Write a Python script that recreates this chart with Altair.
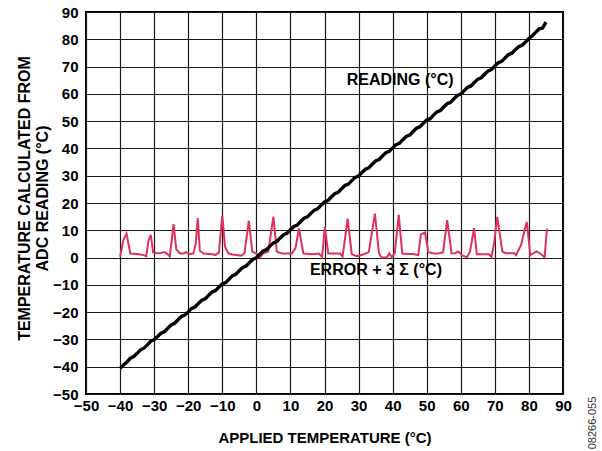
import altair as alt
import pandas as pd

# Reading line (applied temperature vs ADC reading)
reading_x = list(range(-40, 86))
reading_y = [
    -40.6, -39.4, -38.3, -36.9, -36.3, -35.1, -33.8, -33.2, -32.0, -30.7,
    -30.1, -28.9, -27.7, -27.2, -25.9, -24.7, -24.1, -22.8, -21.6, -21.1,
    -19.9, -18.6, -18.1, -16.8, -15.6, -15.1, -13.8, -12.6, -12.1, -10.8,
    -9.7, -9.2, -7.9, -6.6, -6.1, -4.8, -3.6, -3.1, -1.8, -0.6,
    -0.1, 1.2, 2.4, 2.9, 4.2, 5.4, 5.9, 7.2, 8.4, 8.9,
    10.2, 11.4, 11.9, 13.2, 14.4, 14.9, 16.2, 17.4, 17.9, 19.2,
    20.4, 20.9, 22.2, 23.4, 23.9, 25.2, 26.4, 26.9, 28.2, 29.4,
    29.9, 31.2, 32.4, 32.9, 34.2, 35.4, 35.9, 37.2, 38.4, 38.9,
    40.2, 41.4, 41.9, 43.2, 44.4, 44.9, 46.2, 47.4, 47.9, 49.2,
    50.4, 50.9, 52.2, 53.4, 53.9, 55.2, 56.4, 56.9, 58.2, 59.4,
    59.9, 61.2, 62.4, 62.9, 64.2, 65.4, 65.9, 67.2, 68.4, 68.9,
    70.2, 71.4, 71.9, 73.2, 74.4, 74.9, 76.2, 77.3, 77.8, 79.0,
    80.3, 81.3, 82.6, 83.8, 84.1, 86.3,
]

# Error + 3 sigma line
error_x = [
    -40, -39, -38.1, -37, -36, -35, -34, -33, -32.3, -31.7, -31, -30.3, -29, -28, -27, -26,
    -25.4, -24.3, -23.5, -22.5, -21.5, -20.6, -19.6, -18.5, -17.8, -17.2, -16.6, -15.5,
    -14.5, -13, -12, -11, -10, -9.2, -8.2, -7, -5.8, -4.5, -3.5, -2.2, -1.2, 0, 1.1, 2,
    3.5, 5, 6, 7.5, 9, 10.4, 11.5, 12.5, 13.8, 15, 16.3, 18.3, 19.3, 20.1, 21.1, 23.1,
    24.6, 25.3, 26.8, 28, 29.5, 31.5, 33, 34.8, 36, 36.8, 38.3, 39, 39.7, 40.6, 41.8,
    42.8, 44.5, 46, 47.5, 48.3, 49.5, 50.5, 52, 53.5, 54.8, 56, 57.3, 58.3, 59.3, 60.3,
    61.8, 62.7, 63.9, 64.7, 66.2, 68.2, 69, 69.7, 70.7, 72.2, 73.2, 75.7, 76.2, 77.7,
    78.7, 79.4, 80.4, 82.2, 83.2, 84.6, 85.3,
]
error_y = [
    0.3, 6.5, 8.8, 1.5, 1.4, 1.3, 1.1, 0.9, 0.5, 6.0, 8.3, 1.9, 1.6, 1.7, 2.0, 1.2,
    0.4, 12.3, 3.0, 1.6, 1.4, 2.0, 1.2, 1.5, 5.0, 14.5, 2.5, 1.5,
    1.4, 1.2, 1.0, 1.8, 15.5, 4.0, 1.5, 1.1, 0.9, 0.7, 1.5, 13.5, 2.2, 1.5, 0.1, 1.5,
    2.2, 15.0, 2.2, 1.5, 1.5, 1.5, 3.5, 10.7, 1.5, 1.4, 1.2, 1.5, 0.3, 11.2, 1.5, 1.5,
    1.5, 0.3, 14.3, 1.2, 0.5, 1.2, 2.0, 16.1, 1.5, 0.0, 0.0, 1.5, 0.2, 1.5, 15.7,
    1.5, 1.3, 1.3, 0.9, 8.5, 9.2, 2.0, 1.5, 1.5, 2.0, 13.7, 1.5, 1.6, 2.2, 0.9,
    0.1, 2.2, 10.8, 1.2, 1.2, 1.2, 0.3, 4.6, 14.9, 2.2, 1.6, 1.6, 0.9, 4.6,
    10.0, 13.0, 0.9, 2.3, 1.6, 0.1, 10.6,
]

ticks = list(range(-50, 100, 10))

labels = ["READING (°C)", "ERROR + 3 Σ (°C)"]
label_x = [42.2, 35.1]
label_y = [65.0, -4.6]

reading_df = pd.DataFrame({"x": reading_x, "y": reading_y})
error_df = pd.DataFrame({"x": error_x, "y": error_y})
label_df = pd.DataFrame({"x": label_x, "y": label_y, "t": labels})

FONT = "Liberation Sans"

xscale = alt.Scale(domain=[-50, 90], nice=False, zero=False)
yscale = alt.Scale(domain=[-50, 90], nice=False, zero=False)

xaxis = alt.Axis(
    values=ticks, tickCount=15, title="APPLIED TEMPERATURE (°C)", ticks=False, domain=False,
    labelPadding=4, titlePadding=17, labelFlush=False, labelOverlap=False,
    titleFontSize=15,
)
yaxis = alt.Axis(
    values=ticks, tickCount=15, title=["TEMPERATURE CALCULATED FROM", "ADC READING (°C)"],
    ticks=False, domain=False, labelPadding=8, labelFlush=False, labelOverlap=False,
    titleAngle=-90, titleAlign="center", titleBaseline="middle",
    titleX=-62, titleY=186, titleFontSize=16, titleLineHeight=18,
)

X = alt.X("x:Q", scale=xscale, axis=xaxis)
Y = alt.Y("y:Q", scale=yscale, axis=yaxis)

base_err = alt.Chart(error_df).mark_line(color="#e0315a", strokeWidth=2).encode(x=X, y=Y)
read_line = alt.Chart(reading_df).mark_line(color="#000000", strokeWidth=3.4).encode(x=X, y=Y)
text = alt.Chart(label_df).mark_text(
    font=FONT, fontWeight="bold", fontSize=16, color="#000000", align="center", baseline="middle"
).encode(x=X, y=Y, text="t:N")
code = alt.Chart(pd.DataFrame({"t": ["08266-055"]})).mark_text(
    font=FONT, fontSize=11, color="#333333", angle=270, align="center", baseline="middle"
).encode(
    x=alt.value(507), y=alt.value(411), text="t:N"
)

chart = alt.layer(base_err, read_line, text, code).properties(
    width=477, height=382,
    autosize=alt.AutoSizeParams(type="none"),
    padding={"left": 86, "top": 12, "right": 39, "bottom": 57},
    background="white",
).configure_view(
    stroke="#000000", strokeWidth=2
).configure_axis(
    grid=True, gridColor="#1a1a1a", gridWidth=1.2, gridOpacity=1,
    labelFont=FONT, labelFontWeight="bold", labelFontSize=15, labelColor="#000000",
    titleFont=FONT, titleFontWeight="bold", titleColor="#000000",
)

chart.save("out.html", embed_options={"renderer": "svg", "actions": False})
